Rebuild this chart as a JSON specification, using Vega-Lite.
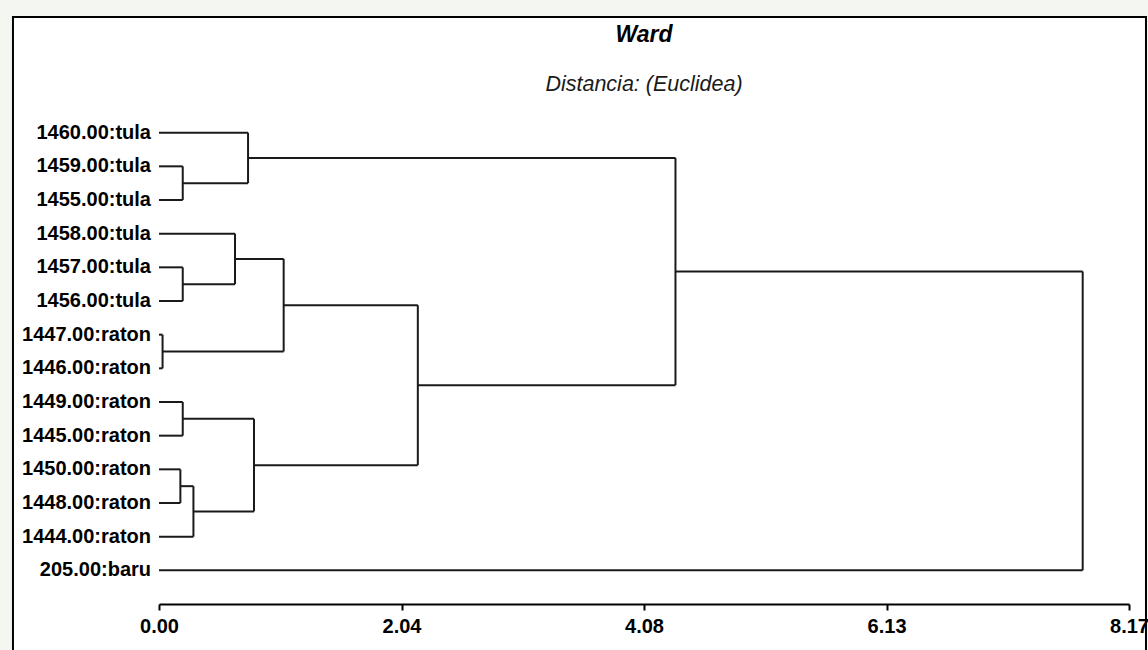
{
  "$schema": "https://vega.github.io/schema/vega-lite/v6.json",
  "width": 970,
  "height": 505,
  "autosize": {"type": "none"},
  "padding": {"left": 159, "top": 99, "right": 19, "bottom": 46},
  "background": "#f4f6f1",
  "config": {"view": {"stroke": null}},
  "title": {
    "text": "Ward",
    "subtitle": "Distancia: (Euclidea)",
    "anchor": "middle",
    "frame": "group",
    "font": "Liberation Sans",
    "fontSize": 23,
    "fontWeight": "bold",
    "fontStyle": "italic",
    "color": "#000000",
    "subtitleFont": "Liberation Sans",
    "subtitleFontSize": 21.5,
    "subtitleFontStyle": "italic",
    "subtitleFontWeight": "normal",
    "subtitleColor": "#1a1a1a",
    "subtitlePadding": 27,
    "offset": -80
  },
  "datasets": {
    "segments": [
      {"d0": 0, "d1": 0.75, "p0": 0, "p1": 0},
      {"d0": 0, "d1": 0.2, "p0": 1, "p1": 1},
      {"d0": 0, "d1": 0.2, "p0": 2, "p1": 2},
      {"d0": 0, "d1": 0.64, "p0": 3, "p1": 3},
      {"d0": 0, "d1": 0.2, "p0": 4, "p1": 4},
      {"d0": 0, "d1": 0.2, "p0": 5, "p1": 5},
      {"d0": 0, "d1": 0.03, "p0": 6, "p1": 6},
      {"d0": 0, "d1": 0.03, "p0": 7, "p1": 7},
      {"d0": 0, "d1": 0.2, "p0": 8, "p1": 8},
      {"d0": 0, "d1": 0.2, "p0": 9, "p1": 9},
      {"d0": 0, "d1": 0.18, "p0": 10, "p1": 10},
      {"d0": 0, "d1": 0.18, "p0": 11, "p1": 11},
      {"d0": 0, "d1": 0.29, "p0": 12, "p1": 12},
      {"d0": 0, "d1": 7.78, "p0": 13, "p1": 13},
      {"d0": 0.2, "d1": 0.2, "p0": 1, "p1": 2},
      {"d0": 0.75, "d1": 0.75, "p0": 0, "p1": 1.5},
      {"d0": 0.2, "d1": 0.2, "p0": 4, "p1": 5},
      {"d0": 0.64, "d1": 0.64, "p0": 3, "p1": 4.5},
      {"d0": 0.03, "d1": 0.03, "p0": 6, "p1": 7},
      {"d0": 1.05, "d1": 1.05, "p0": 3.75, "p1": 6.5},
      {"d0": 0.2, "d1": 0.2, "p0": 8, "p1": 9},
      {"d0": 0.18, "d1": 0.18, "p0": 10, "p1": 11},
      {"d0": 0.29, "d1": 0.29, "p0": 10.5, "p1": 12},
      {"d0": 0.8, "d1": 0.8, "p0": 8.5, "p1": 11.25},
      {"d0": 2.18, "d1": 2.18, "p0": 5.125, "p1": 9.875},
      {"d0": 4.35, "d1": 4.35, "p0": 0.75, "p1": 7.5},
      {"d0": 7.78, "d1": 7.78, "p0": 4.125, "p1": 13},
      {"d0": 0.2, "d1": 0.75, "p0": 1.5, "p1": 1.5},
      {"d0": 0.75, "d1": 4.35, "p0": 0.75, "p1": 0.75},
      {"d0": 0.2, "d1": 0.64, "p0": 4.5, "p1": 4.5},
      {"d0": 0.64, "d1": 1.05, "p0": 3.75, "p1": 3.75},
      {"d0": 0.03, "d1": 1.05, "p0": 6.5, "p1": 6.5},
      {"d0": 1.05, "d1": 2.18, "p0": 5.125, "p1": 5.125},
      {"d0": 0.2, "d1": 0.8, "p0": 8.5, "p1": 8.5},
      {"d0": 0.18, "d1": 0.29, "p0": 10.5, "p1": 10.5},
      {"d0": 0.29, "d1": 0.8, "p0": 11.25, "p1": 11.25},
      {"d0": 0.8, "d1": 2.18, "p0": 9.875, "p1": 9.875},
      {"d0": 2.18, "d1": 4.35, "p0": 7.5, "p1": 7.5},
      {"d0": 4.35, "d1": 7.78, "p0": 4.125, "p1": 4.125}
    ],
    "leaves": [
      {"label": "1460.00:tula", "pos": 0},
      {"label": "1459.00:tula", "pos": 1},
      {"label": "1455.00:tula", "pos": 2},
      {"label": "1458.00:tula", "pos": 3},
      {"label": "1457.00:tula", "pos": 4},
      {"label": "1456.00:tula", "pos": 5},
      {"label": "1447.00:raton", "pos": 6},
      {"label": "1446.00:raton", "pos": 7},
      {"label": "1449.00:raton", "pos": 8},
      {"label": "1445.00:raton", "pos": 9},
      {"label": "1450.00:raton", "pos": 10},
      {"label": "1448.00:raton", "pos": 11},
      {"label": "1444.00:raton", "pos": 12},
      {"label": "205.00:baru", "pos": 13}
    ],
    "panel": [{"left": -1.23, "right": 8.313, "top": -3.436, "bottom": 15.66}]
  },
  "layer": [
    {
      "data": {"name": "panel"},
      "mark": {"type": "rect", "fill": "#ffffff", "stroke": "#000000", "strokeWidth": 2},
      "encoding": {
        "x": {"field": "left", "type": "quantitative", "axis": {"title": null}},
        "x2": {"field": "right"},
        "y": {"field": "top", "type": "quantitative", "axis": null},
        "y2": {"field": "bottom"}
      }
    },
    {
      "data": {"name": "segments"},
      "mark": {"type": "rule", "stroke": "#1a1a1a", "strokeWidth": 2},
      "encoding": {
        "x": {
          "field": "d0",
          "type": "quantitative",
          "scale": {"domain": [0, 8.17], "nice": false, "zero": false},
          "axis": {
            "title": null,
            "values": [0, 2.0425, 4.0849, 6.128, 8.17],
            "format": ".2f",
            "grid": false,
            "domainColor": "#000000",
            "domainWidth": 2,
            "tickColor": "#000000",
            "tickWidth": 2,
            "tickSize": 6,
            "labelFont": "Liberation Sans",
            "labelFontSize": 20,
            "labelFontWeight": "bold",
            "labelColor": "#000000",
            "labelPadding": 6,
            "labelFlush": false,
            "labelOverlap": false,
            "zindex": 1
          }
        },
        "x2": {"field": "d1"},
        "y": {
          "field": "p0",
          "type": "quantitative",
          "scale": {"domain": [-1, 14], "nice": false, "zero": false, "reverse": true},
          "axis": null
        },
        "y2": {"field": "p1"}
      }
    },
    {
      "data": {"name": "leaves"},
      "mark": {"type": "text", "align": "right", "baseline": "middle", "dx": -8, "font": "Liberation Sans", "fontSize": 20, "fontWeight": "bold", "color": "#000000"},
      "encoding": {
        "x": {"datum": 0, "type": "quantitative", "axis": {"title": null}},
        "y": {"field": "pos", "type": "quantitative", "axis": null},
        "text": {"field": "label"}
      }
    }
  ]
}
